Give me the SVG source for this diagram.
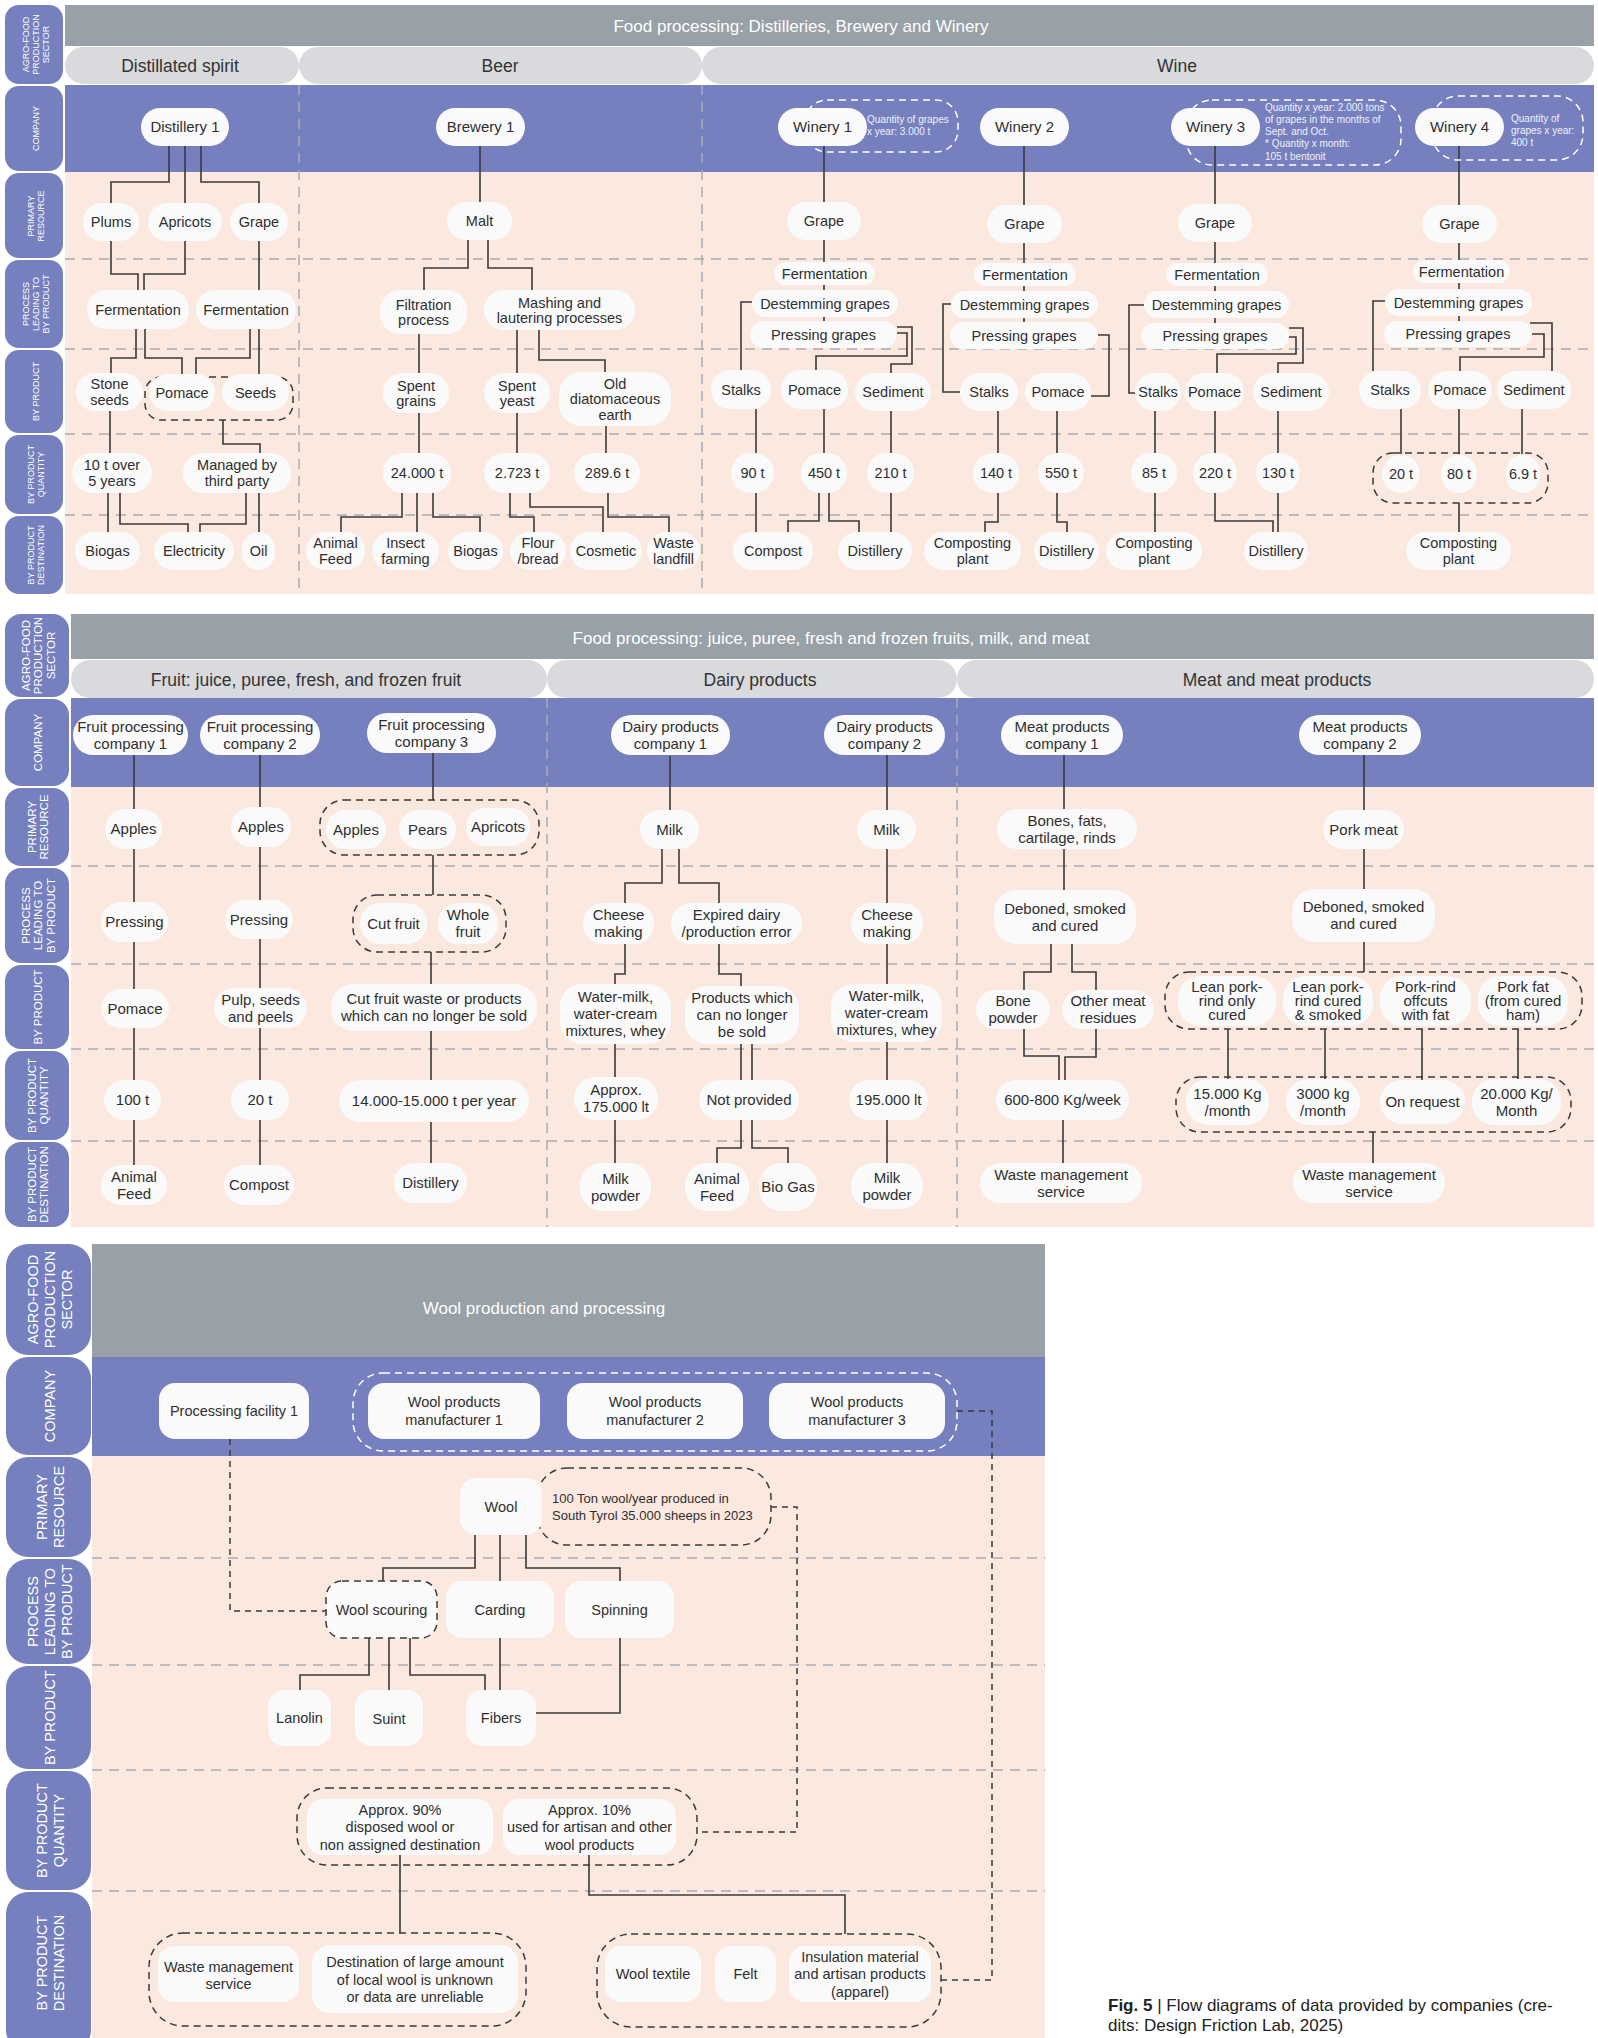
<svg xmlns="http://www.w3.org/2000/svg" width="1598" height="2038" viewBox="0 0 1598 2038">
<style>
.nd{fill:#FAFAFA}
.tx{font-family:"Liberation Sans",Arial,sans-serif;fill:#2F2F2F;text-anchor:middle}
.s1{font-size:14.5px}.s2{font-size:15px}.s3{font-size:17.5px}
.cn{fill:none;stroke:#3A3A3A;stroke-width:1.6}
.cd{fill:none;stroke:#3A3A3A;stroke-width:1.5;stroke-dasharray:6 5}
.gd{fill:none;stroke:#3A3A3A;stroke-width:1.5;stroke-dasharray:7 5}
.gw{fill:none;stroke:#FFFFFF;stroke-width:1.5;stroke-dasharray:7 5}
.sep{fill:none;stroke:#A6ACB6;stroke-width:1.5;stroke-dasharray:10 7}
.tab{fill:#7680BE}
.tt{font-family:"Liberation Sans",Arial,sans-serif;fill:#FFFFFF;text-anchor:middle}
.hd{fill:#98A0A8}.sb{fill:#D9DADD}.pu{fill:#7680BE}.pe{fill:#FBE8DE}
.ht{font-family:"Liberation Sans",Arial,sans-serif;fill:#FFFFFF;text-anchor:middle;font-size:17px}
.sh{font-family:"Liberation Sans",Arial,sans-serif;fill:#333333;text-anchor:middle;font-size:17.5px}
.cw{font-family:"Liberation Sans",Arial,sans-serif;fill:#EEF0FA;font-size:10px}
</style>
<rect width="1598" height="2038" fill="#FFFFFF"/>

<!-- PANEL BACKGROUNDS -->
<g id="panels">
  <rect class="hd" x="65" y="5" width="1529" height="41"/>
  <rect class="sb" x="65" y="47" width="234" height="37" rx="18.5"/>
  <rect class="sb" x="299" y="47" width="403" height="37" rx="18.5"/>
  <rect class="sb" x="702" y="47" width="892" height="37" rx="18.5"/>
  <rect class="pu" x="65" y="85" width="1529" height="87"/>
  <rect class="pe" x="65" y="172" width="1529" height="422"/>
  <text class="ht" x="801" y="32">Food processing: Distilleries, Brewery and Winery</text>
  <text class="sh" x="180" y="72">Distillated spirit</text>
  <text class="sh" x="500" y="72">Beer</text>
  <text class="sh" x="1177" y="72">Wine</text>

  <rect class="hd" x="71" y="614" width="1523" height="45"/>
  <rect class="sb" x="71" y="660" width="476" height="38" rx="19"/>
  <rect class="sb" x="547" y="660" width="410" height="38" rx="19"/>
  <rect class="sb" x="957" y="660" width="637" height="38" rx="19"/>
  <rect class="pu" x="71" y="698" width="1523" height="89"/>
  <rect class="pe" x="71" y="787" width="1523" height="440"/>
  <text class="ht" x="831" y="644">Food processing: juice, puree, fresh and frozen fruits, milk, and meat</text>
  <text class="sh" x="306" y="686">Fruit: juice, puree, fresh, and frozen fruit</text>
  <text class="sh" x="760" y="686">Dairy products</text>
  <text class="sh" x="1277" y="686">Meat and meat products</text>

  <rect class="hd" x="92" y="1244" width="953" height="113"/>
  <rect class="pu" x="92" y="1357" width="953" height="99"/>
  <rect class="pe" x="92" y="1456" width="953" height="582"/>
  <text class="ht" x="544" y="1314">Wool production and processing</text>
</g>

<g id="separators">
  <path class="sep" d="M65 259H1594M65 349H1594M65 434H1594M65 515H1594"/>
  <path class="sep" d="M299 85V594M702 85V594"/>
  <path class="sep" d="M71 866H1594M71 964H1594M71 1049H1594M71 1141H1594"/>
  <path class="sep" d="M547 698V1227M957 698V1227"/>
  <path class="sep" d="M92 1558H1045M92 1665H1045M92 1770H1045M92 1891H1045"/>
</g>

<!-- ROW LABEL TABS -->
<g id="tabs">
  <g id="tab1-sector"><rect class="tab" x="5" y="5" width="58" height="79" rx="14"/>
    <text class="tt" font-size="9" transform="translate(36,44.5) rotate(-90)"><tspan x="0" y="-7">AGRO-FOOD</tspan><tspan x="0" y="3">PRODUCTION</tspan><tspan x="0" y="13">SECTOR</tspan></text></g>
  <g id="tab1-company"><rect class="tab" x="5" y="86" width="58" height="85" rx="14"/>
    <text class="tt" font-size="9" transform="translate(36,128.5) rotate(-90)"><tspan x="0" y="3">COMPANY</tspan></text></g>
  <g id="tab1-primary"><rect class="tab" x="5" y="173" width="58" height="85" rx="14"/>
    <text class="tt" font-size="9" transform="translate(36,216) rotate(-90)"><tspan x="0" y="-2">PRIMARY</tspan><tspan x="0" y="8">RESOURCE</tspan></text></g>
  <g id="tab1-process"><rect class="tab" x="5" y="260" width="58" height="88" rx="14"/>
    <text class="tt" font-size="9" transform="translate(36,304) rotate(-90)"><tspan x="0" y="-7">PROCESS</tspan><tspan x="0" y="3">LEADING TO</tspan><tspan x="0" y="13">BY PRODUCT</tspan></text></g>
  <g id="tab1-byproduct"><rect class="tab" x="5" y="350" width="58" height="83" rx="14"/>
    <text class="tt" font-size="9" transform="translate(36,391.5) rotate(-90)"><tspan x="0" y="3">BY PRODUCT</tspan></text></g>
  <g id="tab1-quantity"><rect class="tab" x="5" y="435" width="58" height="79" rx="14"/>
    <text class="tt" font-size="9" transform="translate(36,474.5) rotate(-90)"><tspan x="0" y="-2">BY PRODUCT</tspan><tspan x="0" y="8">QUANTITY</tspan></text></g>
  <g id="tab1-destination"><rect class="tab" x="5" y="516" width="58" height="78" rx="14"/>
    <text class="tt" font-size="9" transform="translate(36,555) rotate(-90)"><tspan x="0" y="-2">BY PRODUCT</tspan><tspan x="0" y="8">DESTINATION</tspan></text></g>

  <g id="tab2-sector"><rect class="tab" x="5" y="614" width="64" height="83" rx="16"/>
    <text class="tt" font-size="11.5" transform="translate(38,655.5) rotate(-90)"><tspan x="0" y="-8.5">AGRO-FOOD</tspan><tspan x="0" y="4">PRODUCTION</tspan><tspan x="0" y="16.5">SECTOR</tspan></text></g>
  <g id="tab2-company"><rect class="tab" x="5" y="699" width="64" height="87" rx="16"/>
    <text class="tt" font-size="11.5" transform="translate(38,742.5) rotate(-90)"><tspan x="0" y="4">COMPANY</tspan></text></g>
  <g id="tab2-primary"><rect class="tab" x="5" y="788" width="64" height="78" rx="16"/>
    <text class="tt" font-size="11.5" transform="translate(38,827) rotate(-90)"><tspan x="0" y="-2.25">PRIMARY</tspan><tspan x="0" y="10.25">RESOURCE</tspan></text></g>
  <g id="tab2-process"><rect class="tab" x="5" y="868" width="64" height="95" rx="16"/>
    <text class="tt" font-size="11.5" transform="translate(38,915.5) rotate(-90)"><tspan x="0" y="-8.5">PROCESS</tspan><tspan x="0" y="4">LEADING TO</tspan><tspan x="0" y="16.5">BY PRODUCT</tspan></text></g>
  <g id="tab2-byproduct"><rect class="tab" x="5" y="965" width="64" height="84" rx="16"/>
    <text class="tt" font-size="11.5" transform="translate(38,1007) rotate(-90)"><tspan x="0" y="4">BY PRODUCT</tspan></text></g>
  <g id="tab2-quantity"><rect class="tab" x="5" y="1051" width="64" height="89" rx="16"/>
    <text class="tt" font-size="11.5" transform="translate(38,1095.5) rotate(-90)"><tspan x="0" y="-2.25">BY PRODUCT</tspan><tspan x="0" y="10.25">QUANTITY</tspan></text></g>
  <g id="tab2-destination"><rect class="tab" x="5" y="1142" width="64" height="85" rx="16"/>
    <text class="tt" font-size="11.5" transform="translate(38,1184.5) rotate(-90)"><tspan x="0" y="-2.25">BY PRODUCT</tspan><tspan x="0" y="10.25">DESTINATION</tspan></text></g>

  <g id="tab3-sector"><rect class="tab" x="6" y="1244" width="85" height="111" rx="22"/>
    <text class="tt" font-size="14.5" transform="translate(50,1299.5) rotate(-90)"><tspan x="0" y="-12">AGRO-FOOD</tspan><tspan x="0" y="5">PRODUCTION</tspan><tspan x="0" y="22">SECTOR</tspan></text></g>
  <g id="tab3-company"><rect class="tab" x="6" y="1357" width="85" height="98" rx="22"/>
    <text class="tt" font-size="14.5" transform="translate(50,1406) rotate(-90)"><tspan x="0" y="5">COMPANY</tspan></text></g>
  <g id="tab3-primary"><rect class="tab" x="6" y="1457" width="85" height="100" rx="22"/>
    <text class="tt" font-size="14.5" transform="translate(50,1507) rotate(-90)"><tspan x="0" y="-3.5">PRIMARY</tspan><tspan x="0" y="13.5">RESOURCE</tspan></text></g>
  <g id="tab3-process"><rect class="tab" x="6" y="1559" width="85" height="105" rx="22"/>
    <text class="tt" font-size="14.5" transform="translate(50,1611.5) rotate(-90)"><tspan x="0" y="-12">PROCESS</tspan><tspan x="0" y="5">LEADING TO</tspan><tspan x="0" y="22">BY PRODUCT</tspan></text></g>
  <g id="tab3-byproduct"><rect class="tab" x="6" y="1666" width="85" height="103" rx="22"/>
    <text class="tt" font-size="14.5" transform="translate(50,1717.5) rotate(-90)"><tspan x="0" y="5">BY PRODUCT</tspan></text></g>
  <g id="tab3-quantity"><rect class="tab" x="6" y="1771" width="85" height="119" rx="22"/>
    <text class="tt" font-size="14.5" transform="translate(50,1830.5) rotate(-90)"><tspan x="0" y="-3.5">BY PRODUCT</tspan><tspan x="0" y="13.5">QUANTITY</tspan></text></g>
  <g id="tab3-destination"><rect class="tab" x="6" y="1892" width="85" height="160" rx="22"/>
    <text class="tt" font-size="14.5" transform="translate(50,1963) rotate(-90)"><tspan x="0" y="-3.5">BY PRODUCT</tspan><tspan x="0" y="13.5">DESTINATION</tspan></text></g>
</g>

<!-- CONNECTORS -->
<g id="connectors">
  <!-- Distillery -->
  <path class="cn" d="M169 146V182H111V203M185 146V203M201 146V182H259V203"/>
  <path class="cn" d="M111 241V274H138V290M185 241V274H144V290M259 241V290"/>
  <path class="cn" d="M136 329V358H111V373M145 329V358H182V374M250 329V358H196V374M259 329V374"/>
  <path class="cn" d="M110 411V453M223 420V444H260V453"/>
  <path class="cn" d="M108 493V532M120 493V524H188V532M246 493V524H200V532M259 493V532"/>
  <!-- Brewery -->
  <path class="cn" d="M480 146V202M468 240V268H424V290M488 240V268H532V290"/>
  <path class="cn" d="M419 334V373M517 330V373M539 330V360H605V372"/>
  <path class="cn" d="M419 413V453M517 413V453M606 426V453"/>
  <path class="cn" d="M402 493V517H341V532M417 493V532M433 493V517H480V532M510 493V517H534V532M530 493V507H603V532M608 493V517H669V532"/>
  <!-- Winery 1 -->
  <path class="cn" d="M824 146V330M752 302H741V370M897 327H912V364H891V373M897 333H907V356H816V370"/>
  <path class="cn" d="M756 409V453M824 409V453M891 411V453"/>
  <path class="cn" d="M756 493V532M819 493V521H788V532M829 493V521H859V532M891 493V532"/>
  <!-- Winery 2 -->
  <path class="cn" d="M1024 146V330M951 304H943V392H960M1098 335H1109V396H1091"/>
  <path class="cn" d="M998 411V453M1057 411V453M998 493V522H985V532M1057 493V522H1067V532"/>
  <!-- Winery 3 -->
  <path class="cn" d="M1215 146V330M1144 305H1129V393H1135M1289 337H1296V354H1217V373M1289 328H1303V363H1278V373"/>
  <path class="cn" d="M1155 411V453M1215 411V453M1278 411V453M1155 493V532M1215 493V521H1273V532M1278 493V532"/>
  <!-- Winery 4 -->
  <path class="cn" d="M1459 146V330M1385 301H1373V371M1532 334H1544V357H1460V371M1530 323H1552V371"/>
  <path class="cn" d="M1401 409V454M1459 409V454M1522 409V454M1459 503V532"/>

  <!-- Fruit -->
  <path class="cn" d="M134 755V1165M260 755V1165M433 753V800M433 855V895M431 952V1163"/>
  <!-- Dairy -->
  <path class="cn" d="M670 756V810M662 849V883H625V903M679 849V883H719V903"/>
  <path class="cn" d="M625 944V974H615V984M719 944V974H741V986M615 1044V1163M741 1044V1080M752 1044V1080"/>
  <path class="cn" d="M741 1120V1148H717V1163M752 1120V1148H788V1163M887 755V1163"/>
  <!-- Meat -->
  <path class="cn" d="M1064 755V890M1051 944V972H1024V990M1072 944V972H1096V990"/>
  <path class="cn" d="M1024 1029V1056H1059V1080M1096 1029V1057H1065V1080M1063 1120V1163"/>
  <path class="cn" d="M1364 755V972M1228 1029V1079M1325 1029V1079M1422 1029V1080M1518 1029V1079M1373 1132V1163"/>

  <!-- Wool -->
  <path class="cn" d="M475 1535V1568H383V1581M500 1535V1581M526 1535V1568H620V1581"/>
  <path class="cn" d="M369 1638V1675H300V1690M389 1638V1690M410 1638V1675H485V1690M500 1638V1690M620 1638V1713H536"/>
  <path class="cn" d="M400 1855V1933M589 1855V1895H845V1934"/>
  <path class="cd" d="M230 1439V1611H326M771 1507H797V1832H697M957 1411H992V1980H941"/>
</g>

<!-- GROUP OUTLINES / CALLOUTS -->
<g id="groups">
  <rect class="gd" x="145" y="377" width="148" height="43" rx="16"/>
  <rect class="gd" x="1373" y="453" width="175" height="50" rx="20"/>
  <rect class="gw" x="805" y="100" width="153" height="52" rx="22"/>
  <rect class="gw" x="1186" y="100" width="215" height="65" rx="26"/>
  <rect class="gw" x="1432" y="96" width="151" height="64" rx="26"/>
  <rect class="gd" x="320" y="800" width="219" height="55" rx="24"/>
  <rect class="gd" x="353" y="895" width="153" height="57" rx="24"/>
  <rect class="gd" x="1165" y="972" width="417" height="57" rx="24"/>
  <rect class="gd" x="1176" y="1077" width="395" height="55" rx="24"/>
  <rect class="gw" x="353" y="1373" width="604" height="78" rx="30"/>
  <rect class="gd" x="537" y="1468" width="234" height="77" rx="30"/>
  <rect class="gd" x="297" y="1788" width="400" height="77" rx="30"/>
  <rect class="gd" x="149" y="1933" width="377" height="93" rx="34"/>
  <rect class="gd" x="597" y="1934" width="344" height="93" rx="34"/>
</g>

<g id="callouts">
  <text class="cw"><tspan x="867" y="123">Quantity of grapes</tspan><tspan x="867" y="135">x year: 3.000 t</tspan></text>
  <text class="cw"><tspan x="1265" y="110.5">Quantity x year: 2.000 tons</tspan><tspan x="1265" y="122.5">of grapes in the months of</tspan><tspan x="1265" y="134.5">Sept. and Oct.</tspan><tspan x="1265" y="147">* Quantity x month:</tspan><tspan x="1265" y="159.5">105 t bentonit</tspan></text>
  <text class="cw"><tspan x="1511" y="121.5">Quantity of</tspan><tspan x="1511" y="133.5">grapes x year:</tspan><tspan x="1511" y="145.5">400 t</tspan></text>
  <text font-family="Liberation Sans, Arial, sans-serif" font-size="13" fill="#2F2F2F"><tspan x="552" y="1503">100 Ton wool/year produced in</tspan><tspan x="552" y="1520">South Tyrol 35.000 sheeps in 2023</tspan></text>
</g>

<!-- PANEL 1 NODES -->
<g id="n-distillery1"><rect class="nd" x="141" y="108" width="88" height="38" rx="19"/><text class="tx s2" x="185" y="132">Distillery 1</text></g>
<g id="n-brewery1"><rect class="nd" x="436" y="108" width="89" height="38" rx="19"/><text class="tx s2" x="480.5" y="132">Brewery 1</text></g>
<g id="n-winery1"><rect class="nd" x="778" y="108" width="89" height="38" rx="19"/><text class="tx s2" x="822.5" y="132">Winery 1</text></g>
<g id="n-winery2"><rect class="nd" x="980" y="108" width="89" height="38" rx="19"/><text class="tx s2" x="1024.5" y="132">Winery 2</text></g>
<g id="n-winery3"><rect class="nd" x="1171" y="108" width="89" height="38" rx="19"/><text class="tx s2" x="1215.5" y="132">Winery 3</text></g>
<g id="n-winery4"><rect class="nd" x="1415" y="108" width="89" height="38" rx="19"/><text class="tx s2" x="1459.5" y="132">Winery 4</text></g>

<g id="n-plums"><rect class="nd" x="83" y="203" width="56" height="38" rx="19"/><text class="tx s1" x="111" y="227">Plums</text></g>
<g id="n-apricots"><rect class="nd" x="148" y="203" width="74" height="38" rx="19"/><text class="tx s1" x="185" y="227">Apricots</text></g>
<g id="n-grape-d"><rect class="nd" x="230" y="203" width="58" height="38" rx="19"/><text class="tx s1" x="259" y="227">Grape</text></g>
<g id="n-malt"><rect class="nd" x="447" y="202" width="65" height="38" rx="19"/><text class="tx s1" x="479.5" y="226">Malt</text></g>
<g id="n-grape-w1"><rect class="nd" x="787" y="202" width="74" height="38" rx="19"/><text class="tx s1" x="824" y="226">Grape</text></g>
<g id="n-grape-w2"><rect class="nd" x="987" y="205" width="75" height="38" rx="19"/><text class="tx s1" x="1024.5" y="229">Grape</text></g>
<g id="n-grape-w3"><rect class="nd" x="1178" y="204" width="74" height="38" rx="19"/><text class="tx s1" x="1215" y="228">Grape</text></g>
<g id="n-grape-w4"><rect class="nd" x="1422" y="205" width="75" height="38" rx="19"/><text class="tx s1" x="1459.5" y="229">Grape</text></g>

<g id="n-ferm-d1"><rect class="nd" x="87" y="290" width="102" height="39" rx="19"/><text class="tx s1" x="138" y="314.5">Fermentation</text></g>
<g id="n-ferm-d2"><rect class="nd" x="196" y="290" width="100" height="39" rx="19"/><text class="tx s1" x="246" y="314.5">Fermentation</text></g>
<g id="n-filtration"><rect class="nd" x="380" y="290" width="87" height="44" rx="20"/><text class="tx s1"><tspan x="423.5" y="309.5">Filtration</tspan><tspan x="423.5" y="325">process</tspan></text></g>
<g id="n-mashing"><rect class="nd" x="484" y="290" width="151" height="40" rx="20"/><text class="tx s1"><tspan x="559.5" y="307.5">Mashing and</tspan><tspan x="559.5" y="323">lautering processes</tspan></text></g>

<g id="n-ferm-w1"><rect class="nd" x="774" y="262" width="101" height="23" rx="11.5"/><text class="tx s1" x="824.5" y="278.5">Fermentation</text></g>
<g id="n-destem-w1"><rect class="nd" x="752" y="290" width="146" height="27" rx="13.5"/><text class="tx s1" x="825" y="308.5">Destemming grapes</text></g>
<g id="n-press-w1"><rect class="nd" x="750" y="321" width="147" height="27" rx="13.5"/><text class="tx s1" x="823.5" y="339.5">Pressing grapes</text></g>
<g id="n-ferm-w2"><rect class="nd" x="974" y="263" width="102" height="23" rx="11.5"/><text class="tx s1" x="1025" y="279.5">Fermentation</text></g>
<g id="n-destem-w2"><rect class="nd" x="951" y="291" width="147" height="27" rx="13.5"/><text class="tx s1" x="1024.5" y="309.5">Destemming grapes</text></g>
<g id="n-press-w2"><rect class="nd" x="950" y="322" width="148" height="27" rx="13.5"/><text class="tx s1" x="1024" y="340.5">Pressing grapes</text></g>
<g id="n-ferm-w3"><rect class="nd" x="1166" y="263" width="102" height="23" rx="11.5"/><text class="tx s1" x="1217" y="279.5">Fermentation</text></g>
<g id="n-destem-w3"><rect class="nd" x="1144" y="291" width="145" height="27" rx="13.5"/><text class="tx s1" x="1216.5" y="309.5">Destemming grapes</text></g>
<g id="n-press-w3"><rect class="nd" x="1141" y="323" width="148" height="26" rx="13"/><text class="tx s1" x="1215" y="341">Pressing grapes</text></g>
<g id="n-ferm-w4"><rect class="nd" x="1413" y="260" width="97" height="23" rx="11.5"/><text class="tx s1" x="1461.5" y="276.5">Fermentation</text></g>
<g id="n-destem-w4"><rect class="nd" x="1385" y="289" width="147" height="27" rx="13.5"/><text class="tx s1" x="1458.5" y="307.5">Destemming grapes</text></g>
<g id="n-press-w4"><rect class="nd" x="1384" y="321" width="148" height="26" rx="13"/><text class="tx s1" x="1458" y="339">Pressing grapes</text></g>

<g id="n-stoneseeds"><rect class="nd" x="76" y="373" width="67" height="38" rx="19"/><text class="tx s1"><tspan x="109.5" y="389.4">Stone</tspan><tspan x="109.5" y="404.9">seeds</tspan></text></g>
<g id="n-pomace-d"><rect class="nd" x="149" y="374" width="66" height="37" rx="18.5"/><text class="tx s1" x="182" y="397.5">Pomace</text></g>
<g id="n-seeds"><rect class="nd" x="222" y="374" width="67" height="37" rx="18.5"/><text class="tx s1" x="255.5" y="397.5">Seeds</text></g>
<g id="n-spentgrains"><rect class="nd" x="383" y="373" width="66" height="40" rx="20"/><text class="tx s1"><tspan x="416" y="390.5">Spent</tspan><tspan x="416" y="406">grains</tspan></text></g>
<g id="n-spentyeast"><rect class="nd" x="484" y="373" width="66" height="40" rx="20"/><text class="tx s1"><tspan x="517" y="390.5">Spent</tspan><tspan x="517" y="406">yeast</tspan></text></g>
<g id="n-diatom"><rect class="nd" x="559" y="372" width="112" height="54" rx="22"/><text class="tx s1"><tspan x="615" y="388.6">Old</tspan><tspan x="615" y="404.1">diatomaceous</tspan><tspan x="615" y="419.6">earth</tspan></text></g>
<g id="n-stalks-w1"><rect class="nd" x="711" y="370" width="60" height="39" rx="19"/><text class="tx s1" x="741" y="394.5">Stalks</text></g>
<g id="n-pomace-w1"><rect class="nd" x="781" y="370" width="67" height="39" rx="19"/><text class="tx s1" x="814.5" y="394.5">Pomace</text></g>
<g id="n-sediment-w1"><rect class="nd" x="855" y="373" width="76" height="38" rx="19"/><text class="tx s1" x="893" y="397">Sediment</text></g>
<g id="n-stalks-w2"><rect class="nd" x="960" y="373" width="58" height="38" rx="19"/><text class="tx s1" x="989" y="397">Stalks</text></g>
<g id="n-pomace-w2"><rect class="nd" x="1025" y="373" width="66" height="38" rx="19"/><text class="tx s1" x="1058" y="397">Pomace</text></g>
<g id="n-stalks-w3"><rect class="nd" x="1135" y="373" width="46" height="38" rx="19"/><text class="tx s1" x="1158" y="397">Stalks</text></g>
<g id="n-pomace-w3"><rect class="nd" x="1185" y="373" width="59" height="38" rx="19"/><text class="tx s1" x="1214.5" y="397">Pomace</text></g>
<g id="n-sediment-w3"><rect class="nd" x="1253" y="373" width="76" height="38" rx="19"/><text class="tx s1" x="1291" y="397">Sediment</text></g>
<g id="n-stalks-w4"><rect class="nd" x="1359" y="371" width="62" height="38" rx="19"/><text class="tx s1" x="1390" y="395">Stalks</text></g>
<g id="n-pomace-w4"><rect class="nd" x="1428" y="371" width="64" height="38" rx="19"/><text class="tx s1" x="1460" y="395">Pomace</text></g>
<g id="n-sediment-w4"><rect class="nd" x="1497" y="371" width="74" height="38" rx="19"/><text class="tx s1" x="1534" y="395">Sediment</text></g>

<g id="n-q-10t"><rect class="nd" x="72" y="453" width="80" height="40" rx="20"/><text class="tx s1"><tspan x="112" y="470.4">10 t over</tspan><tspan x="112" y="485.9">5 years</tspan></text></g>
<g id="n-q-managed"><rect class="nd" x="183" y="453" width="108" height="40" rx="20"/><text class="tx s1"><tspan x="237" y="470.4">Managed by</tspan><tspan x="237" y="485.9">third party</tspan></text></g>
<g id="n-q-24000"><rect class="nd" x="383" y="453" width="68" height="40" rx="20"/><text class="tx s1" x="417" y="478">24.000 t</text></g>
<g id="n-q-2723"><rect class="nd" x="484" y="453" width="66" height="40" rx="20"/><text class="tx s1" x="517" y="478">2.723 t</text></g>
<g id="n-q-2896"><rect class="nd" x="574" y="453" width="66" height="40" rx="20"/><text class="tx s1" x="607" y="478">289.6 t</text></g>
<g id="n-q-90"><rect class="nd" x="731" y="453" width="43" height="40" rx="20"/><text class="tx s1" x="752.5" y="478">90 t</text></g>
<g id="n-q-450"><rect class="nd" x="801" y="453" width="46" height="40" rx="20"/><text class="tx s1" x="824" y="478">450 t</text></g>
<g id="n-q-210"><rect class="nd" x="867" y="453" width="47" height="40" rx="20"/><text class="tx s1" x="890.5" y="478">210 t</text></g>
<g id="n-q-140"><rect class="nd" x="973" y="453" width="46" height="40" rx="20"/><text class="tx s1" x="996" y="478">140 t</text></g>
<g id="n-q-550"><rect class="nd" x="1038" y="453" width="46" height="40" rx="20"/><text class="tx s1" x="1061" y="478">550 t</text></g>
<g id="n-q-85"><rect class="nd" x="1131" y="453" width="46" height="40" rx="20"/><text class="tx s1" x="1154" y="478">85 t</text></g>
<g id="n-q-220"><rect class="nd" x="1193" y="453" width="44" height="40" rx="20"/><text class="tx s1" x="1215" y="478">220 t</text></g>
<g id="n-q-130"><rect class="nd" x="1256" y="453" width="44" height="40" rx="20"/><text class="tx s1" x="1278" y="478">130 t</text></g>
<g id="n-q-20"><rect class="nd" x="1382" y="455" width="38" height="38" rx="19"/><text class="tx s1" x="1401" y="479">20 t</text></g>
<g id="n-q-80"><rect class="nd" x="1441" y="455" width="36" height="38" rx="18"/><text class="tx s1" x="1459" y="479">80 t</text></g>
<g id="n-q-69"><rect class="nd" x="1506" y="455" width="34" height="38" rx="17"/><text class="tx s1" x="1523" y="479">6.9 t</text></g>

<g id="n-d-biogas1"><rect class="nd" x="75" y="532" width="65" height="38" rx="19"/><text class="tx s1" x="107.5" y="556">Biogas</text></g>
<g id="n-d-electricity"><rect class="nd" x="154" y="532" width="80" height="38" rx="19"/><text class="tx s1" x="194" y="556">Electricity</text></g>
<g id="n-d-oil"><rect class="nd" x="242" y="532" width="33" height="38" rx="16.5"/><text class="tx s1" x="258.5" y="556">Oil</text></g>
<g id="n-d-animalfeed1"><rect class="nd" x="306" y="532" width="59" height="38" rx="19"/><text class="tx s1"><tspan x="335.5" y="548.4">Animal</tspan><tspan x="335.5" y="563.9">Feed</tspan></text></g>
<g id="n-d-insect"><rect class="nd" x="372" y="532" width="67" height="38" rx="19"/><text class="tx s1"><tspan x="405.5" y="548.4">Insect</tspan><tspan x="405.5" y="563.9">farming</tspan></text></g>
<g id="n-d-biogas2"><rect class="nd" x="448" y="532" width="55" height="38" rx="19"/><text class="tx s1" x="475.5" y="556">Biogas</text></g>
<g id="n-d-flour"><rect class="nd" x="510" y="532" width="56" height="38" rx="19"/><text class="tx s1"><tspan x="538" y="548.4">Flour</tspan><tspan x="538" y="563.9">/bread</tspan></text></g>
<g id="n-d-cosmetic"><rect class="nd" x="570" y="532" width="72" height="38" rx="19"/><text class="tx s1" x="606" y="556">Cosmetic</text></g>
<g id="n-d-landfill"><rect class="nd" x="647" y="532" width="53" height="38" rx="19"/><text class="tx s1"><tspan x="673.5" y="548.4">Waste</tspan><tspan x="673.5" y="563.9">landfill</tspan></text></g>
<g id="n-d-compost-w1"><rect class="nd" x="733" y="532" width="80" height="38" rx="19"/><text class="tx s1" x="773" y="556">Compost</text></g>
<g id="n-d-distillery-w1"><rect class="nd" x="838" y="532" width="74" height="38" rx="19"/><text class="tx s1" x="875" y="556">Distillery</text></g>
<g id="n-d-composting-w2"><rect class="nd" x="924" y="532" width="97" height="38" rx="19"/><text class="tx s1"><tspan x="972.5" y="548.4">Composting</tspan><tspan x="972.5" y="563.9">plant</tspan></text></g>
<g id="n-d-distillery-w2"><rect class="nd" x="1034" y="532" width="65" height="38" rx="19"/><text class="tx s1" x="1066.5" y="556">Distillery</text></g>
<g id="n-d-composting-w3"><rect class="nd" x="1106" y="532" width="96" height="38" rx="19"/><text class="tx s1"><tspan x="1154" y="548.4">Composting</tspan><tspan x="1154" y="563.9">plant</tspan></text></g>
<g id="n-d-distillery-w3"><rect class="nd" x="1244" y="532" width="64" height="38" rx="19"/><text class="tx s1" x="1276" y="556">Distillery</text></g>
<g id="n-d-composting-w4"><rect class="nd" x="1406" y="532" width="105" height="38" rx="19"/><text class="tx s1"><tspan x="1458.5" y="548.4">Composting</tspan><tspan x="1458.5" y="563.9">plant</tspan></text></g>

<!-- PANEL 2 NODES -->
<g id="n-fpc1"><rect class="nd" x="73" y="715" width="115" height="40" rx="20"/><text class="tx s2"><tspan x="130.5" y="731.75">Fruit processing</tspan><tspan x="130.5" y="748.75">company 1</tspan></text></g>
<g id="n-fpc2"><rect class="nd" x="200" y="715" width="120" height="40" rx="20"/><text class="tx s2"><tspan x="260" y="731.75">Fruit processing</tspan><tspan x="260" y="748.75">company 2</tspan></text></g>
<g id="n-fpc3"><rect class="nd" x="367" y="713" width="129" height="40" rx="20"/><text class="tx s2"><tspan x="431.5" y="729.75">Fruit processing</tspan><tspan x="431.5" y="746.75">company 3</tspan></text></g>
<g id="n-dpc1"><rect class="nd" x="611" y="715" width="119" height="40" rx="20"/><text class="tx s2"><tspan x="670.5" y="731.75">Dairy products</tspan><tspan x="670.5" y="748.75">company 1</tspan></text></g>
<g id="n-dpc2"><rect class="nd" x="824" y="715" width="121" height="40" rx="20"/><text class="tx s2"><tspan x="884.5" y="731.75">Dairy products</tspan><tspan x="884.5" y="748.75">company 2</tspan></text></g>
<g id="n-mpc1"><rect class="nd" x="1001" y="715" width="122" height="40" rx="20"/><text class="tx s2"><tspan x="1062" y="731.75">Meat products</tspan><tspan x="1062" y="748.75">company 1</tspan></text></g>
<g id="n-mpc2"><rect class="nd" x="1299" y="715" width="122" height="40" rx="20"/><text class="tx s2"><tspan x="1360" y="731.75">Meat products</tspan><tspan x="1360" y="748.75">company 2</tspan></text></g>

<g id="n-apples1"><rect class="nd" x="105" y="809" width="57" height="40" rx="20"/><text class="tx s2" x="133.5" y="834.25">Apples</text></g>
<g id="n-apples2"><rect class="nd" x="231" y="807" width="60" height="40" rx="20"/><text class="tx s2" x="261" y="832.25">Apples</text></g>
<g id="n-apples3"><rect class="nd" x="326" y="810" width="60" height="39" rx="19.5"/><text class="tx s2" x="356" y="834.75">Apples</text></g>
<g id="n-pears"><rect class="nd" x="399" y="810" width="57" height="39" rx="19.5"/><text class="tx s2" x="427.5" y="834.75">Pears</text></g>
<g id="n-apricots2"><rect class="nd" x="466" y="808" width="64" height="38" rx="19"/><text class="tx s2" x="498" y="832.25">Apricots</text></g>
<g id="n-milk1"><rect class="nd" x="640" y="810" width="59" height="39" rx="19.5"/><text class="tx s2" x="669.5" y="834.75">Milk</text></g>
<g id="n-milk2"><rect class="nd" x="857" y="810" width="59" height="39" rx="19.5"/><text class="tx s2" x="886.5" y="834.75">Milk</text></g>
<g id="n-bones"><rect class="nd" x="997" y="809" width="140" height="40" rx="20"/><text class="tx s2"><tspan x="1067" y="825.75">Bones, fats,</tspan><tspan x="1067" y="842.75">cartilage, rinds</tspan></text></g>
<g id="n-porkmeat"><rect class="nd" x="1323" y="810" width="81" height="39" rx="19.5"/><text class="tx s2" x="1363.5" y="834.75">Pork meat</text></g>

<g id="n-pressing1"><rect class="nd" x="101" y="902" width="67" height="40" rx="20"/><text class="tx s2" x="134.5" y="927.25">Pressing</text></g>
<g id="n-pressing2"><rect class="nd" x="225" y="900" width="68" height="39" rx="19.5"/><text class="tx s2" x="259" y="924.75">Pressing</text></g>
<g id="n-cutfruit"><rect class="nd" x="360" y="903" width="67" height="41" rx="20"/><text class="tx s2" x="393.5" y="928.75">Cut fruit</text></g>
<g id="n-wholefruit"><rect class="nd" x="438" y="903" width="60" height="41" rx="20"/><text class="tx s2"><tspan x="468" y="920.25">Whole</tspan><tspan x="468" y="937.25">fruit</tspan></text></g>
<g id="n-cheese1"><rect class="nd" x="583" y="903" width="71" height="41" rx="20"/><text class="tx s2"><tspan x="618.5" y="920.25">Cheese</tspan><tspan x="618.5" y="937.25">making</tspan></text></g>
<g id="n-expired"><rect class="nd" x="671" y="903" width="131" height="41" rx="20"/><text class="tx s2"><tspan x="736.5" y="920.25">Expired dairy</tspan><tspan x="736.5" y="937.25">/production error</tspan></text></g>
<g id="n-cheese2"><rect class="nd" x="851" y="903" width="72" height="41" rx="20"/><text class="tx s2"><tspan x="887" y="920.25">Cheese</tspan><tspan x="887" y="937.25">making</tspan></text></g>
<g id="n-deboned1"><rect class="nd" x="994" y="890" width="142" height="54" rx="22"/><text class="tx s2"><tspan x="1065" y="913.75">Deboned, smoked</tspan><tspan x="1065" y="930.75">and cured</tspan></text></g>
<g id="n-deboned2"><rect class="nd" x="1292" y="889" width="143" height="53" rx="22"/><text class="tx s2"><tspan x="1363.5" y="912.25">Deboned, smoked</tspan><tspan x="1363.5" y="929.25">and cured</tspan></text></g>

<g id="n-pomace-f"><rect class="nd" x="101" y="989" width="68" height="39" rx="19.5"/><text class="tx s2" x="135" y="1013.75">Pomace</text></g>
<g id="n-pulp"><rect class="nd" x="214" y="988" width="93" height="40" rx="20"/><text class="tx s2"><tspan x="260.5" y="1004.75">Pulp, seeds</tspan><tspan x="260.5" y="1021.75">and peels</tspan></text></g>
<g id="n-cutwaste"><rect class="nd" x="331" y="984" width="206" height="47" rx="22"/><text class="tx s2"><tspan x="434" y="1004.25">Cut fruit waste or products</tspan><tspan x="434" y="1021.25">which can no longer be sold</tspan></text></g>
<g id="n-watermilk1"><rect class="nd" x="560" y="984" width="111" height="60" rx="22"/><text class="tx s2"><tspan x="615.5" y="1002.25">Water-milk,</tspan><tspan x="615.5" y="1019.25">water-cream</tspan><tspan x="615.5" y="1036.25">mixtures, whey</tspan></text></g>
<g id="n-productswhich"><rect class="nd" x="685" y="986" width="114" height="58" rx="22"/><text class="tx s2"><tspan x="742" y="1003.25">Products which</tspan><tspan x="742" y="1020.25">can no longer</tspan><tspan x="742" y="1037.25">be sold</tspan></text></g>
<g id="n-watermilk2"><rect class="nd" x="831" y="984" width="111" height="58" rx="22"/><text class="tx s2"><tspan x="886.5" y="1001.25">Water-milk,</tspan><tspan x="886.5" y="1018.25">water-cream</tspan><tspan x="886.5" y="1035.25">mixtures, whey</tspan></text></g>
<g id="n-bonepowder"><rect class="nd" x="976" y="990" width="74" height="39" rx="19.5"/><text class="tx s2"><tspan x="1013" y="1006.25">Bone</tspan><tspan x="1013" y="1023.25">powder</tspan></text></g>
<g id="n-othermeat"><rect class="nd" x="1062" y="990" width="92" height="39" rx="19.5"/><text class="tx s2"><tspan x="1108" y="1006.25">Other meat</tspan><tspan x="1108" y="1023.25">residues</tspan></text></g>
<g id="n-leanonly"><rect class="nd" x="1178" y="976" width="98" height="50" rx="22"/><text class="tx s2"><tspan x="1227" y="992.25">Lean pork-</tspan><tspan x="1227" y="1006.25">rind only</tspan><tspan x="1227" y="1020.25">cured</tspan></text></g>
<g id="n-leancured"><rect class="nd" x="1283" y="976" width="90" height="50" rx="22"/><text class="tx s2"><tspan x="1328" y="992.25">Lean pork-</tspan><tspan x="1328" y="1006.25">rind cured</tspan><tspan x="1328" y="1020.25">&amp; smoked</tspan></text></g>
<g id="n-porkrind"><rect class="nd" x="1380" y="976" width="91" height="50" rx="22"/><text class="tx s2"><tspan x="1425.5" y="992.25">Pork-rind</tspan><tspan x="1425.5" y="1006.25">offcuts</tspan><tspan x="1425.5" y="1020.25">with fat</tspan></text></g>
<g id="n-porkfat"><rect class="nd" x="1478" y="976" width="90" height="50" rx="22"/><text class="tx s2"><tspan x="1523" y="992.25">Pork fat</tspan><tspan x="1523" y="1006.25">(from cured</tspan><tspan x="1523" y="1020.25">ham)</tspan></text></g>

<g id="n-q-100"><rect class="nd" x="104" y="1080" width="57" height="40" rx="20"/><text class="tx s2" x="132.5" y="1105.25">100 t</text></g>
<g id="n-q-20f"><rect class="nd" x="231" y="1080" width="58" height="40" rx="20"/><text class="tx s2" x="260" y="1105.25">20 t</text></g>
<g id="n-q-14000"><rect class="nd" x="339" y="1080" width="190" height="42" rx="21"/><text class="tx s2" x="434" y="1106.25">14.000-15.000 t per year</text></g>
<g id="n-q-175000"><rect class="nd" x="574" y="1077" width="84" height="43" rx="21"/><text class="tx s2"><tspan x="616" y="1095.25">Approx.</tspan><tspan x="616" y="1112.25">175.000 lt</tspan></text></g>
<g id="n-q-notprovided"><rect class="nd" x="699" y="1080" width="100" height="40" rx="20"/><text class="tx s2" x="749" y="1105.25">Not provided</text></g>
<g id="n-q-195000"><rect class="nd" x="849" y="1080" width="79" height="40" rx="20"/><text class="tx s2" x="888.5" y="1105.25">195.000 lt</text></g>
<g id="n-q-600800"><rect class="nd" x="996" y="1080" width="133" height="40" rx="20"/><text class="tx s2" x="1062.5" y="1105.25">600-800 Kg/week</text></g>
<g id="n-q-15000"><rect class="nd" x="1186" y="1079" width="83" height="46" rx="22"/><text class="tx s2"><tspan x="1227.5" y="1098.75">15.000 Kg</tspan><tspan x="1227.5" y="1115.75">/month</tspan></text></g>
<g id="n-q-3000"><rect class="nd" x="1286" y="1079" width="74" height="46" rx="22"/><text class="tx s2"><tspan x="1323" y="1098.75">3000 kg</tspan><tspan x="1323" y="1115.75">/month</tspan></text></g>
<g id="n-q-onrequest"><rect class="nd" x="1380" y="1080" width="85" height="44" rx="22"/><text class="tx s2" x="1422.5" y="1107.25">On request</text></g>
<g id="n-q-20000"><rect class="nd" x="1472" y="1079" width="89" height="46" rx="22"/><text class="tx s2"><tspan x="1516.5" y="1098.75">20.000 Kg/</tspan><tspan x="1516.5" y="1115.75">Month</tspan></text></g>

<g id="n-d-animalfeed-f"><rect class="nd" x="101" y="1165" width="66" height="40" rx="20"/><text class="tx s2"><tspan x="134" y="1181.75">Animal</tspan><tspan x="134" y="1198.75">Feed</tspan></text></g>
<g id="n-d-compost-f"><rect class="nd" x="224" y="1165" width="70" height="40" rx="20"/><text class="tx s2" x="259" y="1190.25">Compost</text></g>
<g id="n-d-distillery-f"><rect class="nd" x="394" y="1163" width="73" height="40" rx="20"/><text class="tx s2" x="430.5" y="1188.25">Distillery</text></g>
<g id="n-d-milkpowder1"><rect class="nd" x="580" y="1163" width="71" height="48" rx="22"/><text class="tx s2"><tspan x="615.5" y="1183.75">Milk</tspan><tspan x="615.5" y="1200.75">powder</tspan></text></g>
<g id="n-d-animalfeed-d"><rect class="nd" x="685" y="1163" width="64" height="48" rx="22"/><text class="tx s2"><tspan x="717" y="1183.75">Animal</tspan><tspan x="717" y="1200.75">Feed</tspan></text></g>
<g id="n-d-biogas-d"><rect class="nd" x="759" y="1163" width="58" height="48" rx="22"/><text class="tx s2" x="788" y="1192.25">Bio Gas</text></g>
<g id="n-d-milkpowder2"><rect class="nd" x="851" y="1163" width="72" height="46" rx="22"/><text class="tx s2"><tspan x="887" y="1182.75">Milk</tspan><tspan x="887" y="1199.75">powder</tspan></text></g>
<g id="n-d-waste-m1"><rect class="nd" x="980" y="1163" width="162" height="40" rx="20"/><text class="tx s2"><tspan x="1061" y="1179.75">Waste management</tspan><tspan x="1061" y="1196.75">service</tspan></text></g>
<g id="n-d-waste-m2"><rect class="nd" x="1293" y="1163" width="152" height="40" rx="20"/><text class="tx s2"><tspan x="1369" y="1179.75">Waste management</tspan><tspan x="1369" y="1196.75">service</tspan></text></g>

<!-- PANEL 3 NODES -->
<g id="n-pf1"><rect class="nd" x="159" y="1383" width="150" height="56" rx="16"/><text class="tx s1" x="234" y="1416">Processing facility 1</text></g>
<g id="n-wpm1"><rect class="nd" x="368" y="1383" width="172" height="56" rx="16"/><text class="tx s1"><tspan x="454" y="1407.25">Wool products</tspan><tspan x="454" y="1424.75">manufacturer 1</tspan></text></g>
<g id="n-wpm2"><rect class="nd" x="567" y="1383" width="176" height="56" rx="16"/><text class="tx s1"><tspan x="655" y="1407.25">Wool products</tspan><tspan x="655" y="1424.75">manufacturer 2</tspan></text></g>
<g id="n-wpm3"><rect class="nd" x="769" y="1383" width="176" height="56" rx="16"/><text class="tx s1"><tspan x="857" y="1407.25">Wool products</tspan><tspan x="857" y="1424.75">manufacturer 3</tspan></text></g>
<g id="n-wool"><rect class="nd" x="460" y="1478" width="82" height="57" rx="16"/><text class="tx s1" x="501" y="1511.5">Wool</text></g>
<g id="n-scouring"><rect class="nd" x="326" y="1581" width="111" height="57" rx="16" stroke="#3A3A3A" stroke-width="1.5" stroke-dasharray="7 5"/><text class="tx s1" x="381.5" y="1614.5">Wool scouring</text></g>
<g id="n-carding"><rect class="nd" x="446" y="1581" width="108" height="57" rx="16"/><text class="tx s1" x="500" y="1614.5">Carding</text></g>
<g id="n-spinning"><rect class="nd" x="565" y="1581" width="109" height="57" rx="16"/><text class="tx s1" x="619.5" y="1614.5">Spinning</text></g>
<g id="n-lanolin"><rect class="nd" x="268" y="1690" width="63" height="56" rx="16"/><text class="tx s1" x="299.5" y="1723">Lanolin</text></g>
<g id="n-suint"><rect class="nd" x="355" y="1690" width="68" height="56" rx="16"/><text class="tx s1" x="389" y="1724">Suint</text></g>
<g id="n-fibers"><rect class="nd" x="466" y="1690" width="70" height="56" rx="16"/><text class="tx s1" x="501" y="1723">Fibers</text></g>
<g id="n-approx90"><rect class="nd" x="307" y="1799" width="186" height="56" rx="16"/><text class="tx s1"><tspan x="400" y="1814.5">Approx. 90%</tspan><tspan x="400" y="1832">disposed wool or</tspan><tspan x="400" y="1849.5">non assigned destination</tspan></text></g>
<g id="n-approx10"><rect class="nd" x="503" y="1799" width="173" height="56" rx="16"/><text class="tx s1"><tspan x="589.5" y="1814.5">Approx. 10%</tspan><tspan x="589.5" y="1832">used for artisan and other</tspan><tspan x="589.5" y="1849.5">wool products</tspan></text></g>
<g id="n-waste-w"><rect class="nd" x="158" y="1946" width="141" height="56" rx="16"/><text class="tx s1"><tspan x="228.5" y="1971.5">Waste management</tspan><tspan x="228.5" y="1989">service</tspan></text></g>
<g id="n-unknown"><rect class="nd" x="312" y="1945" width="206" height="68" rx="18"/><text class="tx s1"><tspan x="415" y="1967">Destination of large amount</tspan><tspan x="415" y="1984.5">of local wool is unknown</tspan><tspan x="415" y="2002">or data are unreliable</tspan></text></g>
<g id="n-wooltextile"><rect class="nd" x="605" y="1946" width="96" height="56" rx="16"/><text class="tx s1" x="653" y="1979">Wool textile</text></g>
<g id="n-felt"><rect class="nd" x="715" y="1946" width="61" height="56" rx="16"/><text class="tx s1" x="745.5" y="1979">Felt</text></g>
<g id="n-insulation"><rect class="nd" x="789" y="1946" width="142" height="56" rx="16"/><text class="tx s1"><tspan x="860" y="1961.5">Insulation material</tspan><tspan x="860" y="1979">and artisan products</tspan><tspan x="860" y="1996.5">(apparel)</tspan></text></g>

<g id="caption">
  <text font-family="Liberation Sans, Arial, sans-serif" font-size="17" fill="#222222"><tspan x="1108" y="2011"><tspan font-weight="bold">Fig. 5</tspan> | Flow diagrams of data provided by companies (cre-</tspan><tspan x="1108" y="2031">dits: Design Friction Lab, 2025)</tspan></text>
</g>
</svg>
